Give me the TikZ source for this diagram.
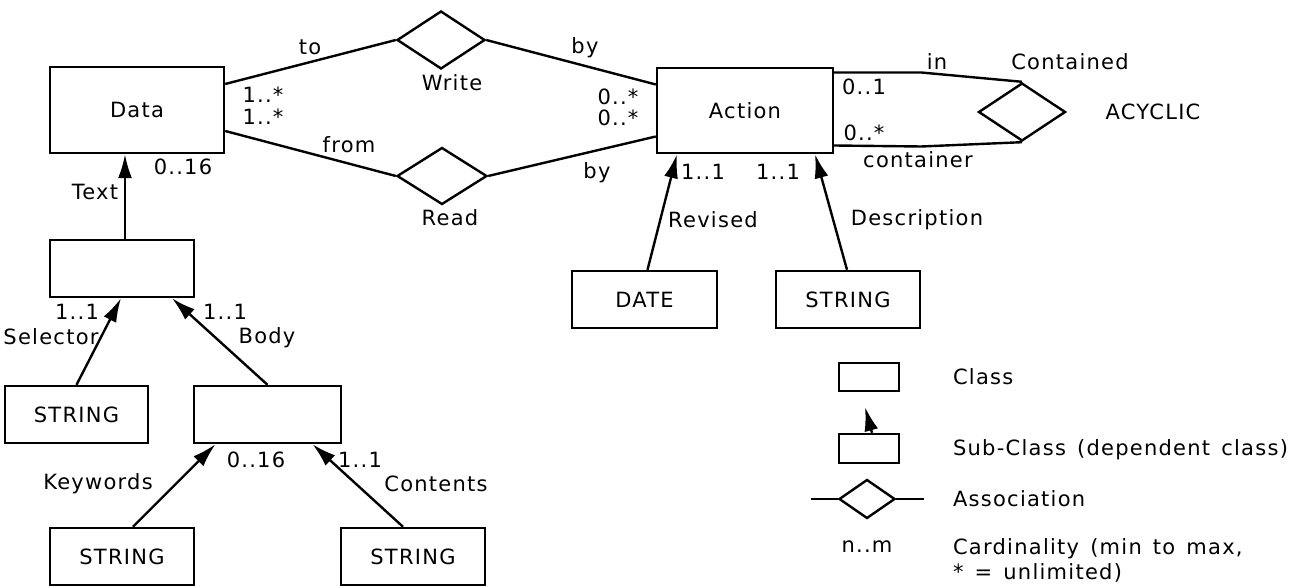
\documentclass[tikz,border=0pt]{standalone}
\usepackage{fontspec}
\setmainfont[LetterSpace=6,WordSpace=1.4]{DejaVu Sans}
\usetikzlibrary{shapes.geometric,arrows.meta}

\tikzset{
  class/.style={draw, line width=1.2pt, inner sep=0pt},
  assoc/.style={draw, diamond, line width=1.2pt, inner sep=0pt},
  arr/.style={line width=1.2pt, -{Latex[length=12pt,width=7pt]}},
  link/.style={line width=1.2pt}
}

\begin{document}
\begin{tikzpicture}[x=0.5pt,y=-0.5pt,font=\fontsize{10.5}{12.5}\selectfont]
\useasboundingbox (0,0) rectangle (1302,587);

% classes
\node [class, minimum width=87pt, minimum height=43pt] (data) at (137,110) {Data};
\node [class, minimum width=88pt, minimum height=42.5pt] (action) at (745,110.5) {Action};
\node [class, minimum width=72pt, minimum height=28.5pt] (sub) at (122,268.5) {};
\node [class, minimum width=71.5pt, minimum height=28.5pt] (selstr) at (76.5,414.5) {STRING};
\node [class, minimum width=73.5pt, minimum height=28.5pt] (body) at (267.5,414.5) {};
\node [class, minimum width=72pt, minimum height=28.5pt] (kwstr) at (122,556.5) {STRING};
\node [class, minimum width=72pt, minimum height=28.5pt] (contstr) at (413,556.5) {STRING};
\node [class, minimum width=72.5pt, minimum height=28.5pt] (date) at (644.5,299.5) {DATE};
\node [class, minimum width=72pt, minimum height=28.5pt] (descstr) at (848,299.5) {STRING};

% associations
\node [assoc, minimum width=44pt, minimum height=29pt] (write) at (441,40) {};
\node [assoc, minimum width=45pt, minimum height=28.5pt] (read) at (442,176) {};
\node [assoc, minimum width=43.5pt, minimum height=29pt] (acyc) at (1022,112) {};

\draw [link] ([yshift=13pt]data.east) -- (write.west);
\draw [link] ([yshift=-10.5pt]data.east) -- (read.west);
\draw [link] (write.east) -- ([yshift=13pt]action.east -| action.west);
\draw [link] (read.east) -- ([yshift=-13pt]action.east -| action.west);
\draw [link] ([yshift=19pt]action.east) -- ++(87,0) -- (acyc.north);
\draw [link] ([yshift=-17.5pt]action.east) -- ++(87,1) -- (acyc.south);

% dependent classes
\draw [arr] ([xshift=1.5pt]sub.north) -- ([xshift=1.5pt]sub.north |- data.south);
\draw [arr] (selstr.north) -- ([xshift=-0.5pt]sub.south);
\draw [arr] (body.north) -- ([xshift=25pt]sub.south);
\draw [arr] ([xshift=5.5pt]kwstr.north) -- ([xshift=-26pt]body.south);
\draw [arr] ([xshift=-5pt]contstr.north) -- ([xshift=22.5pt]body.south);
\draw [arr] ([xshift=1.5pt]date.north) -- ([xshift=-34pt]action.south);
\draw [arr] ([xshift=-0.5pt]descstr.north) -- ([xshift=35pt]action.south);

% labels
\node (lto) at (310,47) {to};
\node (lfrom) at (349,145) {from};
\node (cw1) at (263,95) {1..*};
\node (cr1) at (263,117) {1..*};
\node (lwrite) at (452,83) {Write};
\node (lread) at (450,218) {Read};
\node (lby1) at (585,48) {by};
\node (lby2) at (597,173) {by};
\node (cw2) at (618,97) {0..*};
\node (cr2) at (618,118) {0..*};
\node (ctext) at (183,167) {0..16};
\node (ltext) at (95,192) {Text};
\node (crev) at (703,172) {1..1};
\node (cdesc) at (778,172) {1..1};
\node (lrev) at (713,220) {Revised};
\node (ldesc) at (917,220) {Description};
\node (lin) at (937,62) {in};
\node (lcontd) at (1070,62) {Contained};
\node (cin) at (864,87) {0..1};
\node (ccont) at (864,133) {0..*};
\node (lcont) at (918,160) {container};
\node (lacyc) at (1153,112) {ACYCLIC};
\node (csel) at (77,312) {1..1};
\node (lsel) at (51,337) {Selector};
\node (cbody) at (225,312) {1..1};
\node (lbody) at (267,338) {Body};
\node (ckw) at (256,460) {0..16};
\node (lkw) at (98,484) {Keywords};
\node (ccontents) at (360,460) {1..1};
\node (lcontents) at (436,484) {Contents};

% legend
\node [class, minimum width=30pt, minimum height=14pt] (legclass) at (869,377) {};
\node [class, minimum width=30pt, minimum height=14.5pt] (legsub) at (869,448.5) {};
\draw [arr] ([xshift=1.5pt]legsub.north) -- (865,407);
\node [assoc, minimum width=28pt, minimum height=19.5pt] (legassoc) at (867,499) {};
\draw [link] (legassoc.west) -- ++(-27,0);
\draw [link] (legassoc.east) -- ++(28,0);
\node [right] (tclass) at (946,377) {Class};
\node [right] (tsub) at (946,450) {Sub-Class (dependent class)};
\node [right] (tassoc) at (946,499) {Association};
\node (tnm) at (867,547) {n..m};
\node [right, align=left] (tcard) at (946,560) {Cardinality (min to max,\\* = unlimited)};

\end{tikzpicture}
\end{document}
